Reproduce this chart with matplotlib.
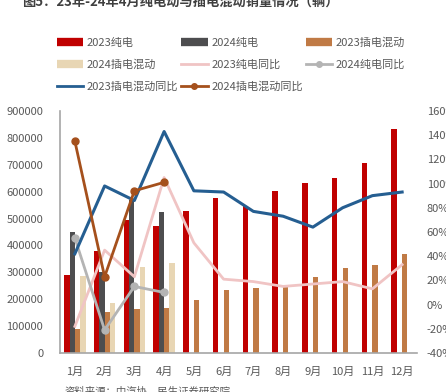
import numpy as np
import matplotlib.pyplot as plt
from matplotlib.lines import Line2D

plt.rcParams['font.family'] = ['Noto Sans CJK SC', 'DejaVu Sans']

# data
months = ['1月', '2月', '3月', '4月', '5月', '6月', '7月', '8月', '9月', '10月', '11月', '12月']
ev_2023 = [290000, 380000, 495000, 474000, 528000, 578000, 545000, 603000, 633000, 652000, 708000, 833000]
ev_2024 = [449000, 300000, 568000, 524000]
phev_2023 = [90000, 152000, 165000, 167000, 197000, 235000, 241000, 247000, 281000, 315000, 327000, 368000]
phev_2024 = [287000, 185000, 320000, 336000]
ev_yoy_2023 = [-18, 45, 23, 105, 51, 21, 19, 15, 17, 19, 13, 33]
ev_yoy_2024 = [55, -21, 15, 10]
phev_yoy_2023 = [42, 98, 86, 143, 94, 93, 77, 73, 64, 80, 90, 93]
phev_yoy_2024 = [135, 23, 94, 101]

c_ev23 = '#C00000'
c_ev24 = '#4D4D4F'
c_ph23 = '#C07A45'
c_ph24 = '#E8D6B4'
c_evy23 = '#F0C4C4'
c_evy24 = '#B4B4B4'
c_phy23 = '#255E91'
c_phy24 = '#A5501C'
txt = '#595959'

fig = plt.figure(figsize=(4.46, 3.92), dpi=100)
ax = fig.add_axes([0.1345, 0.0995, 0.8005, 0.6175])

x = np.arange(len(months))
w = 0.18
ax.bar(x - 1.5 * w, ev_2023, w, color=c_ev23, zorder=2)
ax.bar(x[:4] - 0.5 * w, ev_2024, w, color=c_ev24, zorder=2)
ax.bar(x + 0.5 * w, phev_2023, w, color=c_ph23, zorder=2)
ax.bar(x[:4] + 1.5 * w, phev_2024, w, color=c_ph24, zorder=2)

ax.set_xlim(-0.5, 11.5)
ax.set_ylim(0, 900000)
ax.set_yticks(np.arange(0, 900001, 100000))
ax.set_xticks(x)
ax.set_xticklabels(months)
ax.tick_params(axis='both', length=0, labelsize=8, colors=txt)
ax.tick_params(axis='x', pad=10)
ax.tick_params(axis='y', pad=12)
for s in ['top', 'right']:
    ax.spines[s].set_visible(False)
for s in ['left', 'bottom']:
    ax.spines[s].set_color('#A6A6A6')
    ax.spines[s].set_linewidth(1.2)

ax2 = ax.twinx()
ax2.plot(x, ev_yoy_2023, color=c_evy23, lw=2)
ax2.plot(x[:4], ev_yoy_2024, color=c_evy24, lw=2, marker='o', ms=5)
ax2.plot(x, phev_yoy_2023, color=c_phy23, lw=2.2)
ax2.plot(x[:4], phev_yoy_2024, color=c_phy24, lw=2, marker='o', ms=5)
ax2.set_ylim(-40, 160)
ax2.set_yticks(np.arange(-40, 161, 20))
ax2.set_yticklabels([f'{v}%' for v in range(-40, 161, 20)])
ax2.tick_params(axis='y', length=0, labelsize=8, colors=txt, pad=7)
for s in ax2.spines.values():
    s.set_visible(False)

handles = [
    Line2D([], [], color=c_ev23, lw=6, solid_capstyle='butt'),
    Line2D([], [], color=c_ev24, lw=6, solid_capstyle='butt'),
    Line2D([], [], color=c_ph23, lw=6, solid_capstyle='butt'),
    Line2D([], [], color=c_ph24, lw=6, solid_capstyle='butt'),
    Line2D([], [], color=c_evy23, lw=2),
    Line2D([], [], color=c_evy24, lw=2, marker='o', ms=4),
    Line2D([], [], color=c_phy23, lw=2),
    Line2D([], [], color=c_phy24, lw=2, marker='o', ms=4),
]
labels = ['2023纯电', '2024纯电', '2023插电混动', '2024插电混动',
          '2023纯电同比', '2024纯电同比', '2023插电混动同比', '2024插电混动同比']
order = [0, 3, 6, 1, 4, 7, 2, 5]
fig.legend([handles[i] for i in order], [labels[i] for i in order],
           ncol=3, loc='upper left', bbox_to_anchor=(0.105, 0.93),
           frameon=False, fontsize=8, handlelength=2.4, handletextpad=0.3,
           columnspacing=0.25, labelspacing=1.05, labelcolor=txt)

fig.text(0.05, 0.992, '图5：23年-24年4月纯电动与插电混动销量情况（辆）',
         fontsize=9.5, fontweight='bold', color='#404040', va='center')
fig.text(0.145, 0.0, '资料来源：中汽协，民生证券研究院',
         fontsize=7.5, color=txt, va='center')

fig.savefig('out.png', dpi=100)
